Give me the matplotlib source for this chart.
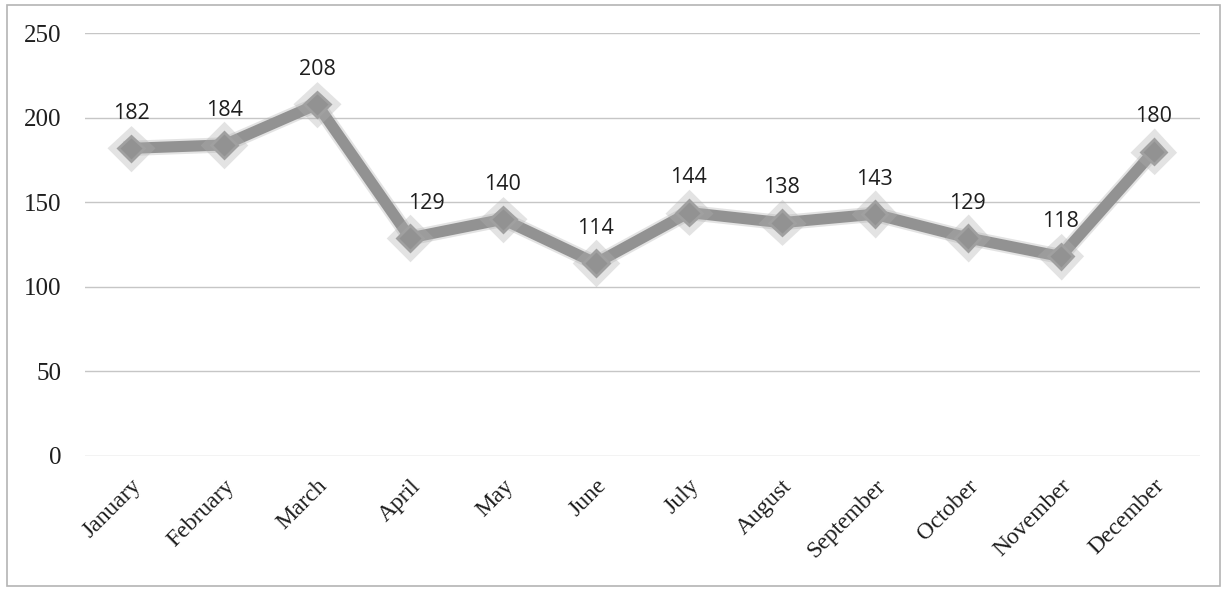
import matplotlib.pyplot as plt
import matplotlib.patheffects as pe
from matplotlib.patches import Rectangle

months = ["January", "February", "March", "April", "May", "June",
          "July", "August", "September", "October", "November", "December"]
values = [182, 184, 208, 129, 140, 114, 144, 138, 143, 129, 118, 180]
yticks = [0, 50, 100, 150, 200, 250]
# horizontal nudge (points) for labels that would sit on the line
label_dx = [0, 0, 0, 12, 0, 0, 0, 0, 0, 0, 0, 0]


def main():
    fig = plt.figure(figsize=(12.27, 5.96), dpi=100)
    fig.patch.set_facecolor("white")

    # outer frame like the scanned chart box
    fig.patches.append(Rectangle((7 / 1227, 1 - 586 / 596), 1213 / 1227, 581 / 596,
                                 transform=fig.transFigure, fill=False,
                                 edgecolor="#b4b4b4", linewidth=1.2))

    ax = fig.add_axes([0.069, 0.235, 0.909, 0.709])
    x = list(range(len(months)))

    line, = ax.plot(x, values, color="#929292", linewidth=8, marker="D",
                    markersize=13, markerfacecolor="#929292",
                    markeredgecolor="#a0a0a0", markeredgewidth=2, zorder=3)
    line.set_path_effects([pe.Stroke(linewidth=11, foreground="#b0b0b0", alpha=0.35),
                           pe.Normal()])

    for xi, v, dx in zip(x, values, label_dx):
        ax.annotate(str(v), (xi, v), xytext=(dx, 25), textcoords="offset points",
                    ha="center", va="center", fontsize=15.5, color="#1e1e1e",
                    family="Open Sans")

    ax.set_xlim(-0.5, len(months) - 0.5)
    ax.set_ylim(0, 250)
    ax.set_yticks(yticks)
    ax.set_xticks(x)
    ax.set_xticklabels(months, rotation=45, ha="right", rotation_mode="anchor",
                       fontsize=17, family="Liberation Serif", color="#1e1e1e")
    ax.set_yticklabels([str(t) for t in yticks], fontsize=18,
                       family="Liberation Serif", color="#1e1e1e")
    ax.tick_params(length=0, pad=17, axis="y")
    ax.tick_params(length=0, pad=14, axis="x")
    ax.grid(axis="y", color="#c6c6c6", linewidth=1)
    ax.set_axisbelow(True)
    for s in ax.spines.values():
        s.set_visible(False)

    fig.savefig("out.png", dpi=100)
    plt.close(fig)


if __name__ == "__main__":
    main()
